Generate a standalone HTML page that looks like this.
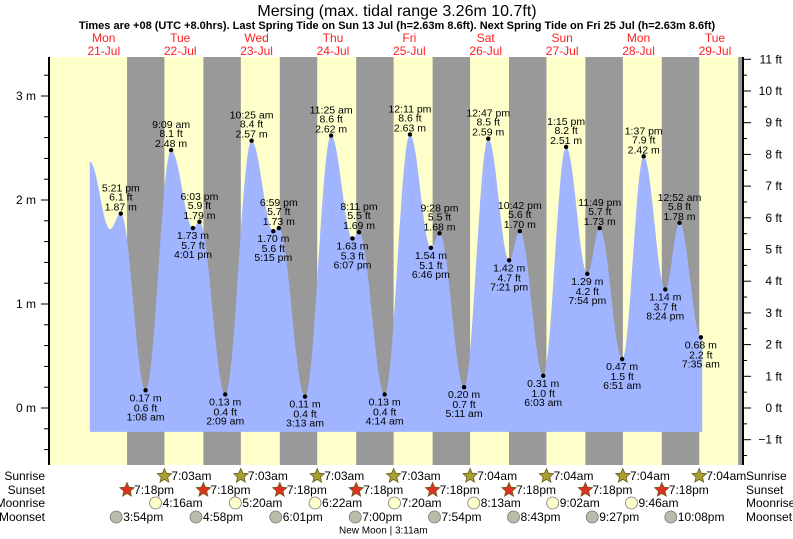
<!DOCTYPE html>
<html><head><meta charset="utf-8"><style>
body{margin:0;background:#fff;}
svg{display:block;font-family:"Liberation Sans",sans-serif;}
</style></head><body>
<svg id="chart" width="793" height="539" viewBox="0 0 793 539" xmlns="http://www.w3.org/2000/svg">
<text x="397" y="16" text-anchor="middle" font-size="16" fill="#000">Mersing (max. tidal range 3.26m 10.7ft)</text>
<text x="397" y="29" text-anchor="middle" font-size="11" font-weight="bold" fill="#000">Times are +08 (UTC +8.0hrs). Last Spring Tide on Sun 13 Jul (h=2.63m 8.6ft). Next Spring Tide on Fri 25 Jul (h=2.63m 8.6ft)</text>
<g id="bg"></g><g id="tide"></g><g id="axes"></g><g id="labels"></g><g id="astro"></g>
</svg>
<script>
// ---- data ----
const dayNames = ["Mon","Tue","Wed","Thu","Fri","Sat","Sun","Mon","Tue"];
const dayDates = ["21-Jul","22-Jul","23-Jul","24-Jul","25-Jul","26-Jul","27-Jul","28-Jul","29-Jul"];
// hours since midnight 21-Jul
const tideTimes = [7.6,13.95,17.35,25.13,33.15,40.02,42.05,50.15,58.42,65.25,66.98,75.22,83.42,90.12,92.18,100.23,108.18,114.77,117.47,125.18,132.78,139.35,142.7,150.05,157.25,163.9,167.82,174.85,181.62,188.4,192.87,199.58,200.0];
const tideHeights = [2.37,1.72,1.87,0.17,2.48,1.73,1.79,0.13,2.57,1.70,1.73,0.11,2.62,1.63,1.69,0.13,2.63,1.54,1.68,0.20,2.59,1.42,1.70,0.31,2.51,1.29,1.73,0.47,2.42,1.14,1.78,0.68,0.68];
const tideTypes = ["","","H","L","H","L","H","L","H","L","H","L","H","L","H","L","H","L","H","L","H","L","H","L","H","L","H","L","H","L","H","L",""];
const tideTimeLabels = ["","","5:21 pm","1:08 am","9:09 am","4:01 pm","6:03 pm","2:09 am","10:25 am","5:15 pm","6:59 pm","3:13 am","11:25 am","6:07 pm","8:11 pm","4:14 am","12:11 pm","6:46 pm","9:28 pm","5:11 am","12:47 pm","7:21 pm","10:42 pm","6:03 am","1:15 pm","7:54 pm","11:49 pm","6:51 am","1:37 pm","8:24 pm","12:52 am","7:35 am",""];
const sunriseTimes = [31.05,55.05,79.05,103.05,127.07,151.07,175.07,199.07];
const sunriseLabels = ["7:03am","7:03am","7:03am","7:03am","7:04am","7:04am","7:04am","7:04am"];
const sunsetTimes = [19.3,43.3,67.3,91.3,115.3,139.3,163.3,187.3,211.3];
const sunsetLabels = ["7:18pm","7:18pm","7:18pm","7:18pm","7:18pm","7:18pm","7:18pm","7:18pm",""];
const moonriseTimes = [28.27,53.33,78.37,103.33,128.22,153.03,177.77];
const moonriseLabels = ["4:16am","5:20am","6:22am","7:20am","8:13am","9:02am","9:46am"];
const moonsetTimes = [15.9,40.97,66.02,91.0,115.9,140.72,165.45,190.13];
const moonsetLabels = ["3:54pm","4:58pm","6:01pm","7:00pm","7:54pm","8:43pm","9:27pm","10:08pm"];
const meterTicks = [0,1,2,3];
const feetTicks = [-1,0,1,2,3,4,5,6,7,8,9,10,11];

// ---- scales ----
const X0=50, X1=740, Y0=57, Y1=465;
const x = t => 65.6 + t*3.183;
const y = h => 408 - 104*h;
const NS="http://www.w3.org/2000/svg";
function mk(tag, attrs, parent, txt){const e=document.createElementNS(NS,tag);for(const k in attrs)e.setAttribute(k,attrs[k]);if(txt!==undefined)e.textContent=txt;parent.appendChild(e);return e;}
const bg=document.getElementById('bg'), tide=document.getElementById('tide'), axes=document.getElementById('axes'), lab=document.getElementById('labels'), astro=document.getElementById('astro');

// background
let r=mk('rect',{x:X0,y:Y0,width:X1-X0,height:Y1-Y0,fill:'#ffffcc'},bg);


for(let i=0;i<sunsetTimes.length;i++){
  const a=Math.max(X0,x(sunsetTimes[i]));
  const bEnd = i<sunriseTimes.length ? x(sunriseTimes[i]) : X1+3;
  const b=Math.min(X1+3,bEnd);
  if(b<=a)continue;
  const n=mk('rect',{x:a,y:Y0,width:b-a,height:Y1-Y0,fill:'#999999'},bg);
  
  
}
// day labels
for(let d=0;d<dayNames.length;d++){
  const cx=x(12+24*d);
  const t1=mk('text',{x:cx,y:42,'text-anchor':'middle','font-size':12,fill:'#ff2020'},lab,dayNames[d]);
  
  
  const t2=mk('text',{x:cx,y:55,'text-anchor':'middle','font-size':12,fill:'#ff2020'},lab,dayDates[d]);
  
  
}

// tide curve (cosine interpolation)
let pts=[];
for(let i=0;i<tideTimes.length-1;i++){
  const t0=tideTimes[i],t1=tideTimes[i+1],h0=tideHeights[i],h1=tideHeights[i+1];
  for(let k=0;k<20;k++){const f=k/20;const h=h0+(h1-h0)*(1-Math.cos(Math.PI*f))/2;pts.push([x(t0+(t1-t0)*f),y(h)]);}
}
pts.push([x(tideTimes[tideTimes.length-1]),y(tideHeights[tideHeights.length-1])]);
const base=y(-0.23);
let d='M'+pts[0][0].toFixed(1)+','+base+' '+pts.map(p=>'L'+p[0].toFixed(1)+','+p[1].toFixed(1)).join(' ')+' L'+pts[pts.length-1][0].toFixed(1)+','+base+' Z';
const area=mk('path',{d:d,fill:'#a0b4ff'},tide);



// extremes
for(let i=0;i<tideTimes.length;i++){
  const ty=tideTypes[i]; if(!ty)continue;
  const px=x(tideTimes[i]), py=y(tideHeights[i]);
  const dot=mk('circle',{cx:px,cy:py,r:2.2,fill:'#000'},tide);
  
  
  const m=tideHeights[i].toFixed(2)+' m', ft=(tideHeights[i]*3.2808).toFixed(1)+' ft', tm=tideTimeLabels[i];
  const lines = ty==='H' ? [[tm,-25],[ft,-16],[m,-6]] : [[m,8],[ft,18],[tm,27]];
  const g=mk('g',{},lab);
  
  
  for(const [s,o] of lines){mk('text',{x:px,y:py+o,'text-anchor':'middle','dominant-baseline':'central','font-size':10.5,fill:'#000'},g,s);}
}

// axes
const la=mk('line',{x1:49,y1:Y0,x2:49,y2:Y1,stroke:'#000','stroke-width':2},axes);


for(let v=-0.4;v<=3.41;v+=0.2){
  const yy=y(v); if(yy<Y0||yy>Y1)continue;
  const major=Math.abs(v-Math.round(v))<0.01;
  const tk=mk('line',{x1:major?41:44,y1:yy,x2:49,y2:yy,stroke:'#000','stroke-width':1},axes);
  
  
}
for(const v of meterTicks){
  const t=mk('text',{x:36,y:y(v),'text-anchor':'end','dominant-baseline':'central','font-size':12,fill:'#000'},axes,v+' m');
  
  
}
const ra=mk('line',{x1:743,y1:Y0,x2:743,y2:Y1,stroke:'#000','stroke-width':2},axes);


const fy=f=>y(f*0.3048);
for(let f=-1.5;f<=11.01;f+=0.5){
  const yy=fy(f); if(yy<Y0||yy>Y1)continue;
  const major=Math.abs(f-Math.round(f))<0.01;
  const tk=mk('line',{x1:743,y1:yy,x2:major?751:747,y2:yy,stroke:'#000','stroke-width':1},axes);
  
  
}
for(const f of feetTicks){
  const t=mk('text',{x:782,y:fy(f),'text-anchor':'end','dominant-baseline':'central','font-size':12,fill:'#000'},axes,(f<0?'\u22121':f)+' ft');
  
  
}

// astro rows
const rows=[['Sunrise',476],['Sunset',490],['Moonrise',503],['Moonset',517]];
for(const [n,yy] of rows){
  const a=mk('text',{x:45,y:yy,'text-anchor':'end','dominant-baseline':'central','font-size':12,fill:'#000'},astro,n);
  
  
  const b=mk('text',{x:746,y:yy,'dominant-baseline':'central','font-size':12,fill:'#000'},astro,n);
  
  
}
function star(cx,cy,fill){let p=[];for(let k=0;k<10;k++){const rr=k%2?3.4:7.5;const a=-Math.PI/2+k*Math.PI/5;p.push((cx+rr*Math.cos(a)).toFixed(1)+','+(cy+rr*Math.sin(a)).toFixed(1));}return mk('polygon',{points:p.join(' '),fill:fill,stroke:'#6b5a1e','stroke-width':0.8},astro);}
function evt(times,labels,yy,kind){
  for(let i=0;i<times.length;i++){
    const cx=x(times[i]); if(cx>760||!labels[i])continue;
    let ic;
    if(kind==='sunrise')ic=star(cx,yy,'#a8a030');
    else if(kind==='sunset')ic=star(cx,yy,'#e03020');
    else ic=mk('circle',{cx:cx,cy:yy,r:6,fill:kind==='moonrise'?'#ffffcc':'#bbbbaa',stroke:'#777','stroke-width':0.8},astro);
    
    
    const t=mk('text',{x:cx+7,y:yy,'dominant-baseline':'central','font-size':12,fill:'#000'},astro,labels[i]);
    
    
  }
}
evt(sunriseTimes,sunriseLabels,476,'sunrise');
evt(sunsetTimes,sunsetLabels,490,'sunset');
evt(moonriseTimes,moonriseLabels,503,'moonrise');
evt(moonsetTimes,moonsetLabels,517,'moonset');
const nm=mk('text',{x:x(99.18)+2,y:531,'text-anchor':'middle','dominant-baseline':'central','font-size':10,fill:'#000'},astro,'New Moon | 3:11am');


</script>
</body></html>
